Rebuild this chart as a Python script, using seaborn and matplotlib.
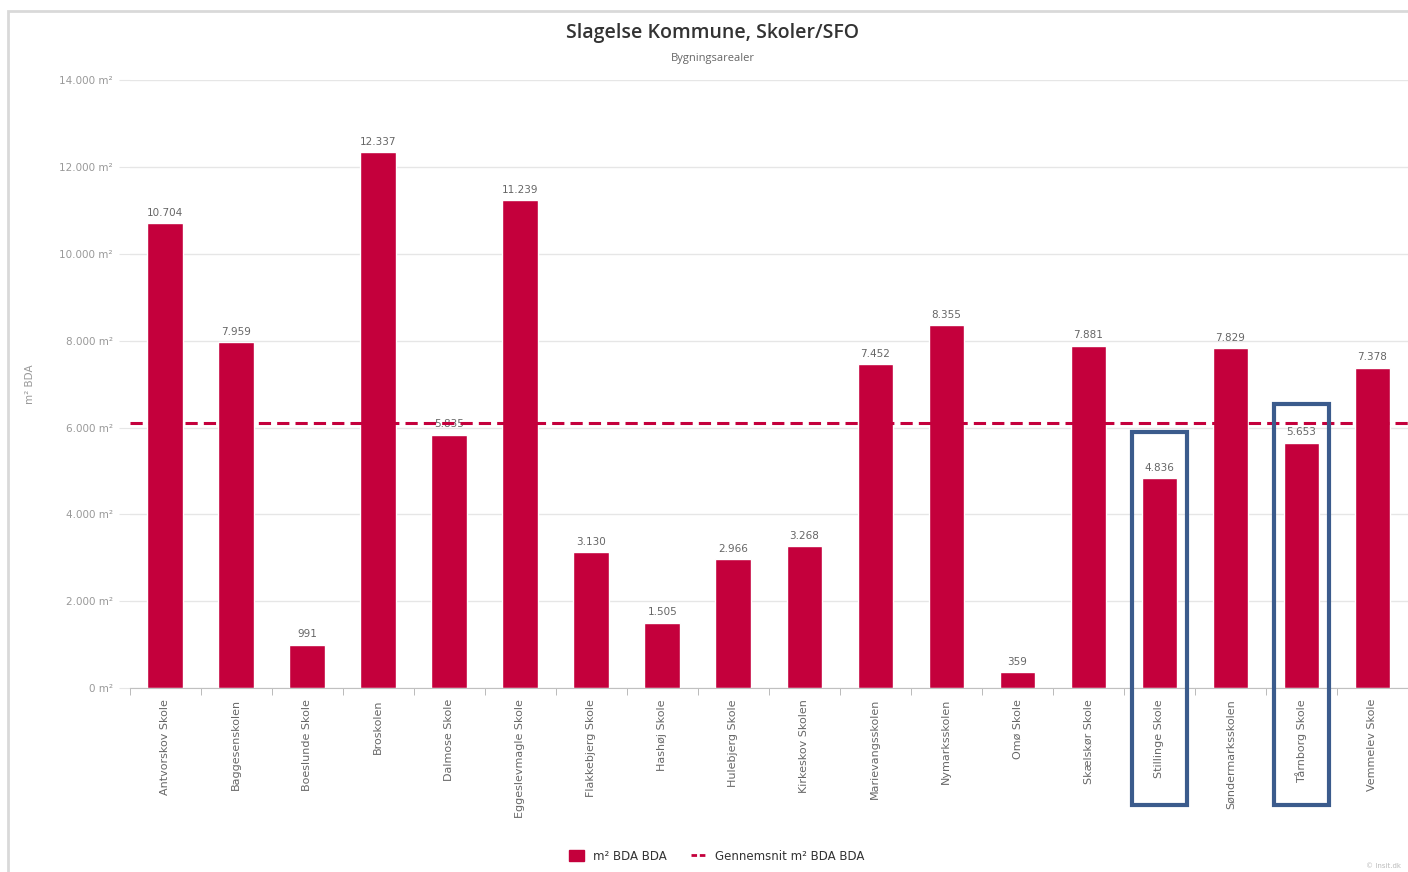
import matplotlib
matplotlib.use("Agg")
import numpy as np
import pandas as pd
import seaborn as sns
from matplotlib import pyplot as plt
from matplotlib.patches import Rectangle, Patch
from matplotlib.lines import Line2D
from matplotlib.ticker import FuncFormatter, FixedLocator

schools = [
    "Antvorskov Skole", "Baggesenskolen", "Boeslunde Skole", "Broskolen",
    "Dalmose Skole", "Eggeslevmagle Skole", "Flakkebjerg Skole", "Hashøj Skole",
    "Hulebjerg Skole", "Kirkeskov Skolen", "Marievangsskolen", "Nymarksskolen",
    "Omø Skole", "Skælskør Skole", "Stillinge Skole", "Søndermarksskolen",
    "Tårnborg Skole", "Vemmelev Skole",
]
area_m2 = [10704, 7959, 991, 12337, 5835, 11239, 3130, 1505, 2966, 3268,
           7452, 8355, 359, 7881, 4836, 7829, 5653, 7378]
average_m2 = 6093
highlighted = ["Stillinge Skole", "Tårnborg Skole"]

BAR_COLOR = "#c4003c"
TEXT_GRAY = "#666666"
BOX_BLUE = "#3b5b8c"

data = pd.DataFrame({"Skole": schools, "Areal": area_m2})

sns.set_style("white")
plt.rcParams["font.family"] = ["DejaVu Sans"]

fig = plt.figure(figsize=(14.08, 8.72), dpi=100)
ax = fig.add_axes([0.092, 0.211, 0.908, 0.697])

# outer frame of the chart container
fig.patches.append(Rectangle((8 / 1408, -0.1), 1.2, 1.1 - 11 / 872,
                             transform=fig.transFigure, fill=False,
                             edgecolor="#d9d9d9", linewidth=2, zorder=0))

ax.yaxis.grid(True, color="#e6e6e6", linewidth=1)
ax.set_axisbelow(True)
sns.barplot(data=data, x="Skole", y="Areal", color=BAR_COLOR, width=0.5,
            saturation=1, ax=ax, zorder=2)

ax.bar_label(ax.containers[0],
             labels=[f"{v:,}".replace(",", ".") for v in area_m2],
             padding=4, fontsize=7.5, color=TEXT_GRAY)

ax.axhline(average_m2, color=BAR_COLOR, linestyle=(0, (4, 2)), linewidth=2.2,
           zorder=3)

ax.set_ylim(0, 14000)
ax.set_xlim(-0.5, len(schools) - 0.5)
ax.yaxis.set_major_locator(FixedLocator(np.arange(0, 14001, 2000)))
ax.yaxis.set_major_formatter(
    FuncFormatter(lambda v, _: f"{int(v):,}".replace(",", ".") + " m²"))
ax.tick_params(axis="y", labelsize=7.5, labelcolor="#999999", length=8,
               color="#e6e6e6", pad=4, left=True)
ax.set_xlabel("")
ax.set_ylabel("m² BDA", fontsize=7.5, color="#999999")
ax.yaxis.set_label_coords(-0.074, 0.5)

ax.set_xticks(range(len(schools)))
ax.set_xticklabels(schools, rotation=90, fontsize=8, color=TEXT_GRAY)
ax.tick_params(axis="x", which="major", length=0, pad=8)
ax.set_xticks(np.arange(-0.5, len(schools), 1), minor=True)
ax.tick_params(axis="x", which="minor", length=5, color="#b0b0b0",
               bottom=True)

for side in ["top", "right", "left"]:
    ax.spines[side].set_visible(False)
ax.spines["bottom"].set_color("#c0c0c0")

# blue highlight boxes around selected schools
for name, extra in zip(highlighted, [1060, 890]):
    i = schools.index(name)
    top = area_m2[i] + extra
    ax.add_patch(Rectangle((i - 0.39, -2700), 0.78, top + 2700, fill=False,
                           edgecolor=BOX_BLUE, linewidth=3, clip_on=False,
                           zorder=5))

fig.text(0.506, 0.962, "Slagelse Kommune, Skoler/SFO", ha="center",
         va="center", fontsize=14, color="#333333", family="Open Sans",
         fontweight="semibold")
fig.text(0.506, 0.933, "Bygningsarealer", ha="center", va="center",
         fontsize=8, color=TEXT_GRAY, family="Open Sans")

handles = [
    Patch(facecolor=BAR_COLOR, edgecolor=BAR_COLOR, label="m² BDA BDA"),
    Line2D([0], [0], color=BAR_COLOR, linestyle=(0, (2, 1)), linewidth=2,
           label="Gennemsnit m² BDA BDA"),
]
fig.legend(handles=handles, loc="center", bbox_to_anchor=(0.509, 0.018),
           ncol=2, frameon=False, fontsize=8.5, handlelength=1.3,
           handleheight=1.0, columnspacing=2, labelcolor="#333333")

fig.text(0.995, 0.003, "© Insit.dk", ha="right", va="bottom", fontsize=5,
         color="#bbbbbb")

fig.savefig("out.png", dpi=100)
